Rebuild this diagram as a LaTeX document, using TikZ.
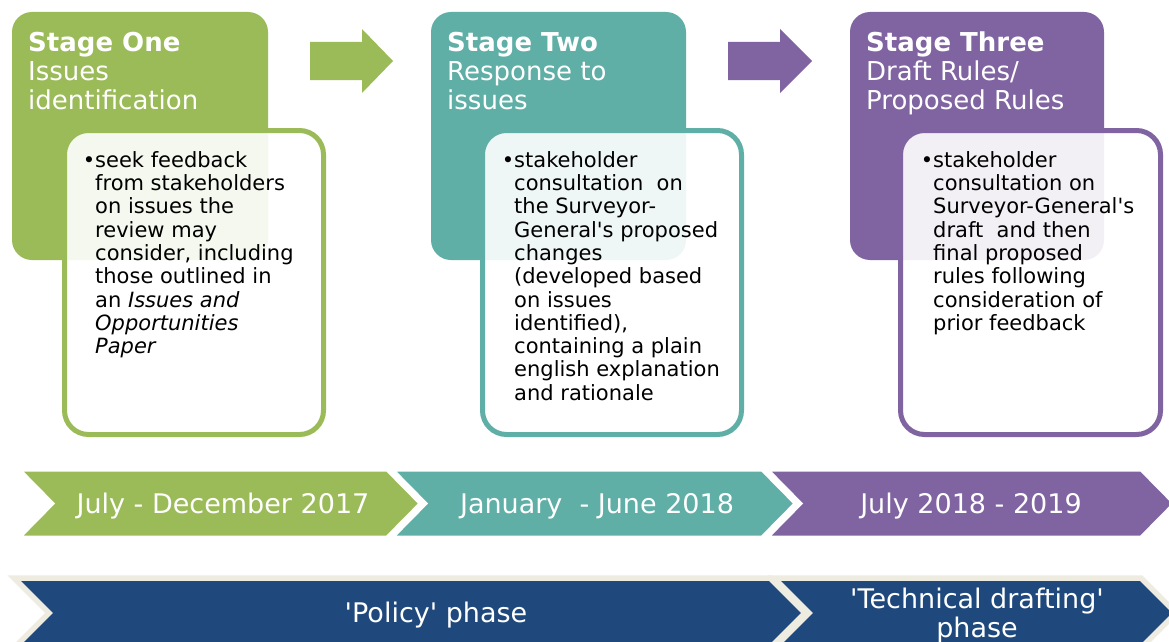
\documentclass[tikz,border=0pt]{standalone}
\usepackage{fontspec}
\setmainfont{DejaVu Sans}
\definecolor{sgreen}{HTML}{9BBB59}
\definecolor{steal}{HTML}{5FAFA6}
\definecolor{spurple}{HTML}{8064A2}
\definecolor{snavy}{HTML}{1F497D}
\definecolor{sbeige}{HTML}{EEECE1}
\newcommand{\apos}{\textquotesingle}
\newcommand{\firstlift}[1]{\rule{0pt}{#1}}
\tikzset{
  panel/.style={rectangle, rounded corners=20pt, inner sep=0pt, outer sep=0pt, anchor=north west, minimum width=256pt, minimum height=248pt},
  notebox/.style={rectangle, fill=white, fill opacity=0.9, line width=5pt, rounded corners=24pt, inner sep=0pt, outer sep=0pt, anchor=north west, minimum height=304pt},
  titletext/.style={font=\fontsize{26}{29}\selectfont, text=white, align=left, anchor=north west, inner sep=0pt},
  bodytext/.style={font=\fontsize{21}{23.3}\selectfont, text=black, align=left, anchor=north west, inner sep=0pt},
  chevtext/.style={font=\fontsize{27}{29}\selectfont, text=white, inner sep=0pt},
  chevtop/.style={draw=white, line width=3pt, line join=miter},
  chevbottom/.style={fill=snavy, draw=sbeige, line width=5.5pt, line join=miter},
}
\begin{document}
\begin{tikzpicture}[x=1pt, y=-1pt]
\useasboundingbox (0,0) rectangle (1169,642);
\fill[white] (0,0) rectangle (1169,642);

% stage panels
\node[panel, fill=sgreen] (s1) at (12,12) {};
\node[panel, fill=steal, minimum width=255pt] (s2) at (431,12) {};
\node[panel, fill=spurple, minimum width=254pt] (s3) at (850,12) {};

% titles
\node[titletext] (t1) at (28,27) {\firstlift{24pt}\textbf{Stage One}\\Issues\\identification};
\node[titletext] (t2) at (447,27) {\firstlift{24pt}\textbf{Stage Two}\\Response to\\issues};
\node[titletext] (t3) at (866,27) {\firstlift{24pt}\textbf{Stage Three}\\Draft Rules/\\Proposed Rules};

% note boxes
\node[notebox, draw=sgreen, minimum width=259pt] (n1) at (64.5,130.5) {};
\node[notebox, draw=steal, minimum width=259pt] (n2) at (482.5,130.5) {};
\node[notebox, draw=spurple, minimum width=260pt] (n3) at (900.5,130.5) {};

% note texts
\node[bodytext] (b1) at (95,147) {\firstlift{20pt}\llap{•}seek feedback\\from stakeholders\\on issues the\\review may\\consider, including\\those outlined in\\an \textit{Issues and}\\\textit{Opportunities}\\\textit{Paper}};
\node[bodytext] (b2) at (514,147) {\firstlift{20pt}\llap{•}stakeholder\\consultation\ \ on\\the Surveyor-\\General\apos s proposed\\changes\\(developed based\\on issues\\identified),\\containing a plain\\english explanation\\and rationale};
\node[bodytext] (b3) at (933,147) {\firstlift{20pt}\llap{•}stakeholder\\consultation on\\Surveyor-General\apos s\\draft\ \ and then\\final proposed\\rules following\\consideration of\\prior feedback};

% arrows between stages
\fill[sgreen] (310,42) -- (362,42) -- (362,29) -- (393,61) -- (362,93) -- (362,80) -- (310,80) -- cycle;
\fill[spurple] (728,42) -- (780,42) -- (780,29) -- (812,61) -- (780,93) -- (780,80) -- (728,80) -- cycle;

% timeline chevrons
\filldraw[chevtop, fill=sgreen] (20,470) -- (387,470) -- (420,503.5) -- (387,537) -- (20,537) -- (53,503.5) -- cycle;
\filldraw[chevtop, fill=steal] (393,470) -- (762,470) -- (795,503.5) -- (762,537) -- (393,537) -- (426,503.5) -- cycle;
\filldraw[chevtop, fill=spurple] (768,470) -- (1141,470) -- (1174,503.5) -- (1141,537) -- (768,537) -- (801,503.5) -- cycle;
\node[chevtext, anchor=base] (d1) at (223,513) {July - December 2017};
\node[chevtext, anchor=base] (d2) at (597,513) {January\ \ - June 2018};
\node[chevtext, anchor=base] (d3) at (971,513) {July 2018 - 2019};

% phase chevrons
\filldraw[chevbottom] (14,578) -- (770,578) -- (805,613) -- (770,648) -- (14,648) -- (49,613) -- cycle;
\filldraw[chevbottom] (774,578) -- (1141,578) -- (1176,613) -- (1141,648) -- (774,648) -- (809,613) -- cycle;
\node[chevtext, anchor=base] (p1) at (436,622) {\apos Policy\apos\ phase};
\node[chevtext, align=center, anchor=north] (p2) at (977,584) {\firstlift{24pt}\apos Technical drafting\apos\\phase};
\end{tikzpicture}
\end{document}
